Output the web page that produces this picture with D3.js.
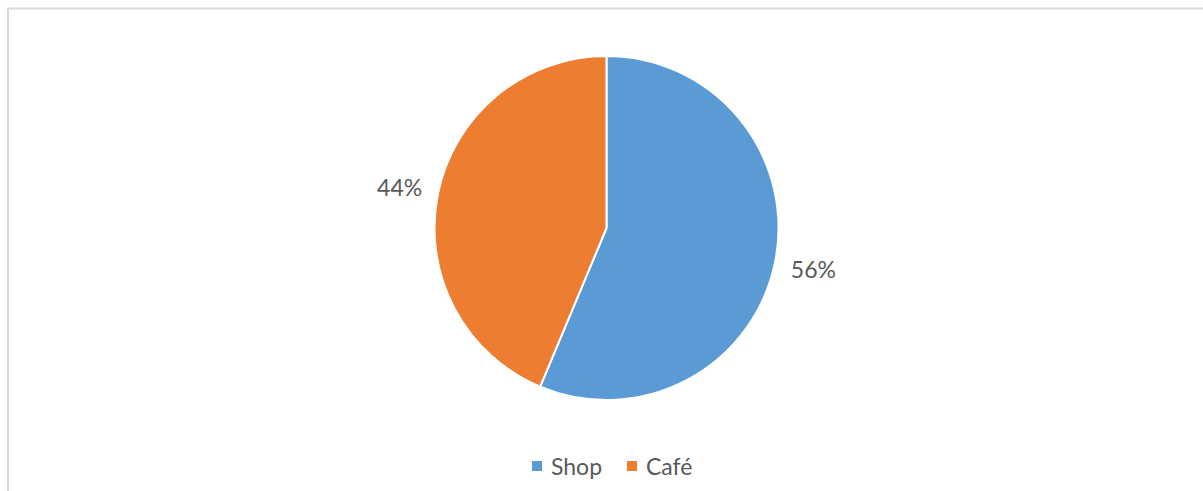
<!DOCTYPE html>
<html>
<head>
<meta charset="utf-8">
<script src="https://cdn.jsdelivr.net/npm/d3@7"></script>
<style>
  html, body { margin: 0; padding: 0; background: #fff; overflow: hidden; }
</style>
</head>
<body>
<script>
// data
const categories = ["Shop", "Café"];
const shares = [56.3, 43.7];
const colors = ["#5B9BD5", "#ED7D31"];

const width = 1203, height = 491;
const cx = 606.5, cy = 228, radius = 172;

const svg = d3.select("body").append("svg")
  .attr("width", width)
  .attr("height", height);

// chart frame (right/bottom edges fall outside the view)
svg.append("rect")
  .attr("x", 8).attr("y", 8.5)
  .attr("width", 1210).attr("height", 500)
  .attr("fill", "none")
  .attr("stroke", "#d9d9d9")
  .attr("stroke-width", 2);

const data = categories.map((c, i) => ({ name: c, value: shares[i], color: colors[i] }));

const pie = d3.pie().value(d => d.value).sort(null);
const arcs = pie(data);
const arc = d3.arc().innerRadius(0).outerRadius(radius);
const labelArc = d3.arc().innerRadius(211).outerRadius(211);

const g = svg.append("g").attr("transform", `translate(${cx},${cy})`);

g.selectAll("path")
  .data(arcs)
  .join("path")
  .attr("d", arc)
  .attr("fill", d => d.data.color)
  .attr("stroke", "#fff")
  .attr("stroke-width", 2)
  .attr("stroke-linejoin", "round");

const total = d3.sum(shares);
g.selectAll("text.lbl")
  .data(arcs)
  .join("text")
  .attr("class", "lbl")
  .attr("transform", d => `translate(${labelArc.centroid(d)})`)
  .attr("text-anchor", "middle")
  .attr("dominant-baseline", "central")
  .attr("font-family", "Lato, 'Open Sans', sans-serif")
  .attr("font-size", 23)
  .attr("fill", "#595959")
  .text(d => Math.round(d.data.value / total * 100) + "%");

// legend
const legend = svg.append("g").attr("transform", "translate(532,466)");
const items = legend.selectAll("g")
  .data(data)
  .join("g")
  .attr("transform", (d, i) => `translate(${i * 95},0)`);

items.append("rect")
  .attr("x", 0).attr("y", -5)
  .attr("width", 10).attr("height", 10)
  .attr("fill", d => d.color);

items.append("text")
  .attr("x", 19)
  .attr("y", 0)
  .attr("dominant-baseline", "central")
  .attr("font-family", "Lato, 'Open Sans', sans-serif")
  .attr("font-size", 23)
  .attr("fill", "#595959")
  .text(d => d.name);
</script>
</body>
</html>
